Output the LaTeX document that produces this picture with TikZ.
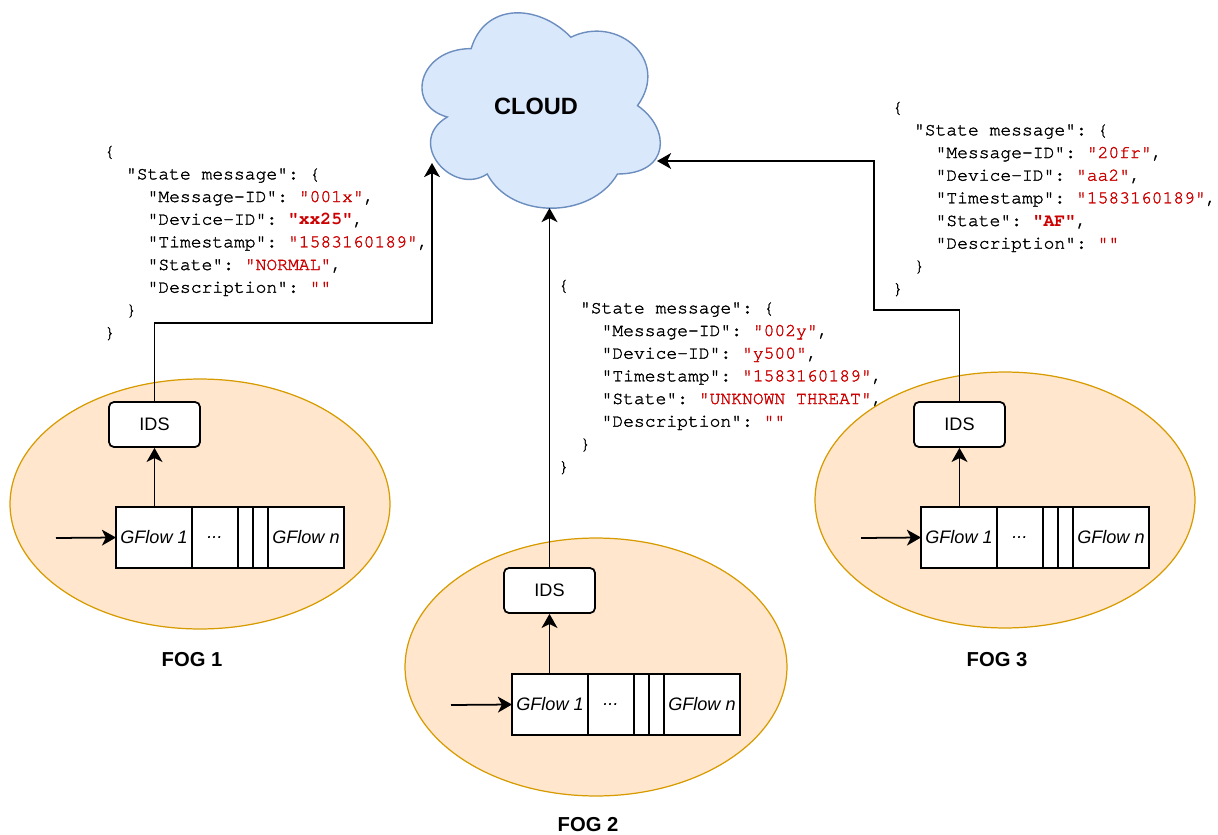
\documentclass[tikz,border=0pt]{standalone}
\usepackage{fontspec}
\setmainfont{Liberation Sans}
\setmonofont{TeX Gyre Cursor}[UprightFeatures={FakeBold=1.6}]
\usetikzlibrary{arrows.meta,positioning}

\definecolor{fogfill}{HTML}{FFE6CC}
\definecolor{fogline}{HTML}{D79B00}
\definecolor{cloudfill}{HTML}{DAE8FC}
\definecolor{cloudline}{HTML}{6C8EBF}
\definecolor{jsonred}{HTML}{CC0000}

% json values and indents
\newcommand{\jv}[1]{\textcolor{jsonred}{"#1"}}
\newcommand{\jvb}[1]{\textcolor{jsonred}{\bfseries"#1"}}
\newcommand{\jin}{\phantom{xx}}

\tikzset{
  flow/.style={draw, line width=1pt, -{Stealth[length=8pt,width=9pt,inset=2.2pt]}},
  idsbox/.style={draw, line width=1pt, rounded corners=2.8pt, fill=white,
    minimum width=1.82cm, minimum height=0.9cm, font=\fontsize{10.3pt}{12pt}\selectfont},
  cell/.style={draw, line width=1pt, fill=white, minimum height=1.22cm,
    inner sep=0pt, outer sep=0pt, font=\fontsize{10.3pt}{12pt}\selectfont\itshape},
  json/.style={anchor=base west, inner sep=0pt, align=left,
    font=\fontsize{10.25pt}{12.9pt}\selectfont\ttfamily},
  foglabel/.style={font=\fontsize{11.5pt}{14pt}\selectfont\bfseries},
  fogarea/.style={fill=fogfill, draw=fogline, line width=0.7pt},
}

\begin{document}
\begin{tikzpicture}[x=0.02cm, y=-0.02cm]

  \useasboundingbox (0,0) rectangle (1218,835);

  % state messages (placed at the baseline of the last line)
  \node[json] (json1) at (104,338) {\{\\
    \jin"State message": \{\\
    \jin\jin"Message-ID": \jv{001x},\\
    \jin\jin"Device-ID": \jvb{xx25},\\
    \jin\jin"Timestamp": \jv{1583160189},\\
    \jin\jin"State": \jv{NORMAL},\\
    \jin\jin"Description": \jv{}\\
    \jin\}\\
    \}};
  \node[json] (json2) at (558,472) {\{\\
    \jin"State message": \{\\
    \jin\jin"Message-ID": \jv{002y},\\
    \jin\jin"Device-ID": \jv{y500},\\
    \jin\jin"Timestamp": \jv{1583160189},\\
    \jin\jin"State": \jv{UNKNOWN THREAT},\\
    \jin\jin"Description": \jv{}\\
    \jin\}\\
    \}};
  \node[json] (json3) at (892,294) {\{\\
    \jin"State message": \{\\
    \jin\jin"Message-ID": \jv{20fr},\\
    \jin\jin"Device-ID": \jv{aa2},\\
    \jin\jin"Timestamp": \jv{1583160189},\\
    \jin\jin"State": \jvb{AF},\\
    \jin\jin"Description": \jv{}\\
    \jin\}\\
    \}};

  % fog areas
  \draw[fogarea] (200,504) ellipse [x radius=3.8cm, y radius=2.5cm];
  \draw[fogarea] (596,667) ellipse [x radius=3.82cm, y radius=2.58cm];
  \draw[fogarea] (1005,500) ellipse [x radius=3.8cm, y radius=2.56cm];

  % cloud
  \draw[fill=cloudfill, draw=cloudline, line width=0.8pt]
    (471.2,48.6) .. controls (418.0,48.6) and (404.7,105.6) .. (447.3,117.0)
    .. controls (404.7,142.1) and (452.6,196.8) .. (487.2,174.0)
    .. controls (511.1,219.6) and (590.9,219.6) .. (617.5,174.0)
    .. controls (670.7,174.0) and (670.7,128.4) .. (637.5,105.6)
    .. controls (670.7,60.0) and (617.5,14.4) .. (570.9,37.2)
    .. controls (537.7,3.0) and (484.5,3.0) .. (471.2,48.6) -- cycle;
  \node[font=\fontsize{13.4pt}{16pt}\selectfont\bfseries] (cloud) at (536,106) {CLOUD};
  \coordinate (c1) at (432,163);
  \coordinate (c2) at (549.5,208);
  \coordinate (c3) at (657,161);
  \coordinate (j3) at (874,161);

  % FOG 1
  \node[idsbox] (ids1) at (154.5,424.5) {IDS};
  \node[cell, minimum width=1.52cm, anchor=north west] (g1a) at (116,507) {GFlow 1};
  \node[cell, minimum width=0.92cm, right=0pt of g1a] (g1b) {.{}.{}.};
  \node[cell, minimum width=0.3cm, right=0pt of g1b] (g1c) {};
  \node[cell, minimum width=0.3cm, right=0pt of g1c] (g1d) {};
  \node[cell, minimum width=1.52cm, right=0pt of g1d] (g1e) {GFlow n};
  \coordinate (in1) at (56,538);
  \draw[flow] (in1) -- (g1a.west);
  \draw[flow] (ids1.south |- g1a.north) -- (ids1.south);
  \draw[flow] (ids1.north) -- ++(0,-78) -| (c1);
  \node[foglabel] (fog1) at (192,660) {FOG 1};

  % FOG 2
  \node[idsbox] (ids2) at (549.5,590.5) {IDS};
  \node[cell, minimum width=1.52cm, anchor=north west] (g2a) at (512,674) {GFlow 1};
  \node[cell, minimum width=0.92cm, right=0pt of g2a] (g2b) {.{}.{}.};
  \node[cell, minimum width=0.3cm, right=0pt of g2b] (g2c) {};
  \node[cell, minimum width=0.3cm, right=0pt of g2c] (g2d) {};
  \node[cell, minimum width=1.52cm, right=0pt of g2d] (g2e) {GFlow n};
  \coordinate (in2) at (451,705);
  \draw[flow] (in2) -- (g2a.west);
  \draw[flow] (ids2.south |- g2a.north) -- (ids2.south);
  \draw[flow] (ids2.north) -- (c2);
  \node[foglabel] (fog2) at (588,825) {FOG 2};

  % FOG 3
  \node[idsbox] (ids3) at (959.5,424.5) {IDS};
  \node[cell, minimum width=1.52cm, anchor=north west] (g3a) at (921,507) {GFlow 1};
  \node[cell, minimum width=0.92cm, right=0pt of g3a] (g3b) {.{}.{}.};
  \node[cell, minimum width=0.3cm, right=0pt of g3b] (g3c) {};
  \node[cell, minimum width=0.3cm, right=0pt of g3c] (g3d) {};
  \node[cell, minimum width=1.52cm, right=0pt of g3d] (g3e) {GFlow n};
  \coordinate (in3) at (861,538);
  \draw[flow] (in3) -- (g3a.west);
  \draw[flow] (ids3.south |- g3a.north) -- (ids3.south);
  \draw[flow] (ids3.north) -- ++(0,-91) -| (j3) -- (c3);
  \node[foglabel] (fog3) at (997,660) {FOG 3};

\end{tikzpicture}
\end{document}
